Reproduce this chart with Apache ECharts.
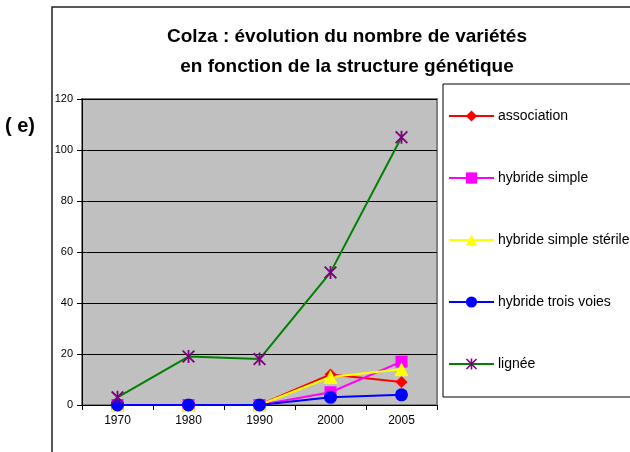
<!DOCTYPE html>
<html>
<head>
<meta charset="utf-8">
<script src="https://cdn.jsdelivr.net/npm/echarts@6/dist/echarts.min.js"></script>
<style>
  html, body { margin: 0; padding: 0; background: #fff; }
  #chart { width: 630px; height: 452px; }
</style>
</head>
<body>
<div id="chart"></div>
<script>
// années
var years = ['1970', '1980', '1990', '2000', '2005'];

// nombre de variétés par structure génétique
var association = [0, 0, 0, 12, 9];
var hybrideSimple = [0, 0, 0, 5, 17];
var hybrideSimpleSterile = [0, 0, 0, 11, 14];
var hybrideTroisVoies = [0, 0, 0, 3, 4];
var lignee = [3, 19, 18, 52, 105];

var seriesNames = ['association', 'hybride simple', 'hybride simple stérile', 'hybride trois voies', 'lignée'];

// asterisque (X + barre verticale)
var star = 'path://M4.3 0 L5.7 0 L5.7 10 L4.3 10 Z M0 1 L1 0 L10 9 L9 10 Z M9 0 L10 1 L1 10 L0 9 Z';

var FONT = 'Liberation Sans, Arial, sans-serif';

function line(name, data, lineColor, symbol, markColor, size) {
    return {
        name: name,
        type: 'line',
        data: data,
        symbol: symbol,
        symbolSize: size,
        showAllSymbol: true,
        lineStyle: { color: lineColor, width: 2 },
        itemStyle: { color: markColor, borderWidth: 0 },
        color: lineColor,
        emphasis: { disabled: true },
        animation: false
    };
}

var myChart = echarts.init(document.getElementById('chart'));
myChart.setOption({
    backgroundColor: '#fff',
    textStyle: { fontFamily: FONT },
    title: {
        text: 'Colza : évolution du nombre de variétés\nen fonction de la structure génétique',
        left: 342,
        textAlign: 'center',
        top: 17,
        textStyle: { fontSize: 19, fontWeight: 'bold', color: '#000', lineHeight: 30, fontFamily: FONT }
    },
    graphic: [
        { type: 'rect', shape: { x: 52, y: 7, width: 700, height: 600 }, style: { fill: 'none', stroke: '#222', lineWidth: 1.5 }, z: -1 },
        { type: 'rect', shape: { x: 443, y: 84, width: 300, height: 313 }, style: { fill: '#fff', stroke: '#000', lineWidth: 1 }, z: 0 },
        { type: 'text', left: 5, top: 116, style: { text: '( e)', fontSize: 20, fontWeight: 'bold', fill: '#000', fontFamily: FONT } }
    ],
    legend: {
        data: seriesNames,
        orient: 'vertical',
        left: 448,
        top: 109,
        padding: 0,
        itemWidth: 45,
        itemHeight: 14,
        itemGap: 48,
        textStyle: { fontSize: 14, color: '#000', fontFamily: FONT, padding: [0, 0, 0, -1] },
        z: 5
    },
    grid: {
        left: 82, right: 193, top: 99, bottom: 47,
        show: true,
        backgroundColor: '#C0C0C0',
        borderColor: '#808080',
        borderWidth: 2
    },
    xAxis: {
        type: 'category',
        data: years,
        boundaryGap: true,
        axisLine: { lineStyle: { color: '#000', width: 1 } },
        axisTick: { show: true, inside: false, length: 5, lineStyle: { color: '#000' } },
        axisLabel: { fontSize: 12, color: '#000', margin: 10, fontFamily: FONT },
        splitLine: { show: false }
    },
    yAxis: {
        type: 'value',
        min: 0, max: 120, interval: 20,
        axisLine: { show: true, lineStyle: { color: '#000', width: 1 } },
        axisTick: { show: true, inside: false, length: 5, lineStyle: { color: '#000' } },
        axisLabel: { fontSize: 11, color: '#000', margin: 9, fontFamily: FONT },
        splitLine: { show: true, lineStyle: { color: '#000', width: 1 } }
    },
    series: [
        line(seriesNames[0], association, '#FF0000', 'diamond', '#FF0000', 12),
        line(seriesNames[1], hybrideSimple, '#FF00FF', 'rect', '#FF00FF', 12),
        line(seriesNames[2], hybrideSimpleSterile, '#FFFF00', 'triangle', '#FFFF00', 14),
        line(seriesNames[3], hybrideTroisVoies, '#0000FF', 'circle', '#0000FF', 13),
        line(seriesNames[4], lignee, '#008000', star, '#800080', 13)
    ]
});
</script>
</body>
</html>
